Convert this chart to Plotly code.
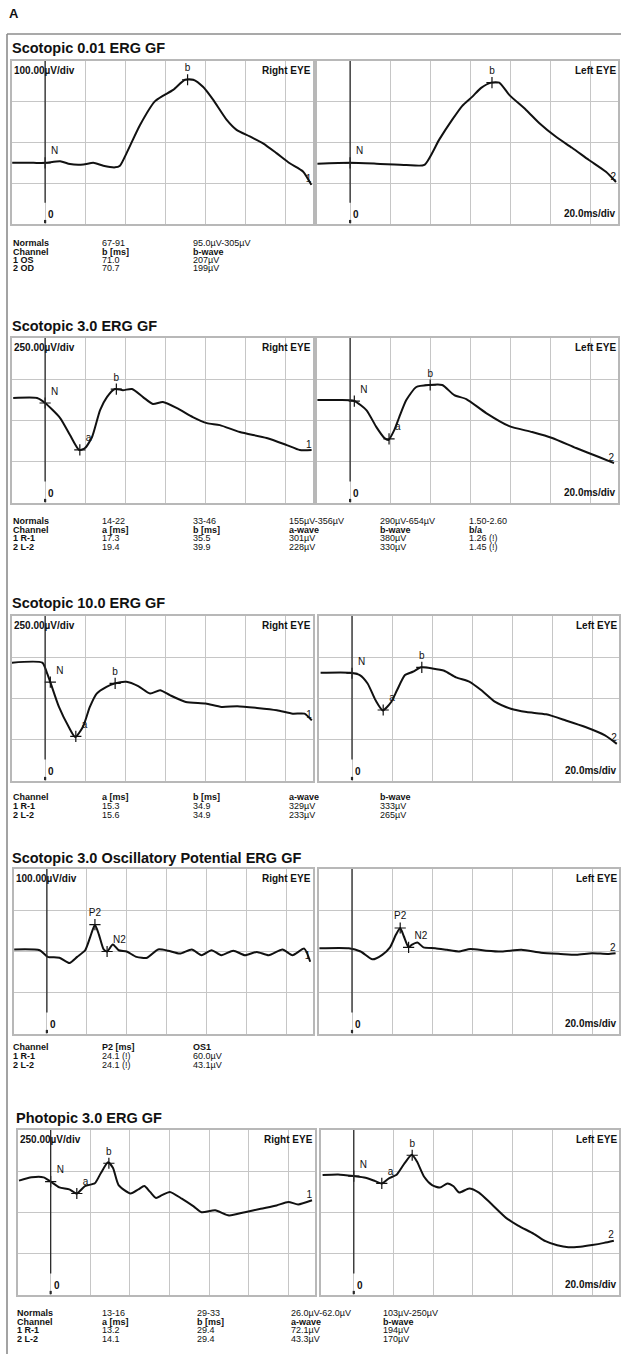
import numpy as np
import plotly.graph_objects as go

W, H = 621, 1354
FONT = "Arial, Liberation Sans, Helvetica, sans-serif"
GRID = "#c6c6c6"
BORDER = "#b8b8b8"
INK = "#111111"

# ---------------- data (time in ms, amplitude in µV) ----------------
# Scotopic 0.01 ERG GF (100 µV/div)
s1_right_ms = [-16.4, -5.8, 0, 7.5, 12.4, 19.1, 24.0, 29.0, 34.8, 37.3, 40.6, 47.3, 54.7, 58.9, 63.8,
               69.7, 73.8, 78.8, 83.7, 90.4, 95.4, 102.0, 108.6, 115.3, 121.9, 128.5, 132.7]
s1_right_uv = [0, 0, 0, 4, -3, -4, 0, -7, -11, -7, 24, 93, 151, 165, 179,
               204, 204, 186, 155, 106, 81, 65, 48, 24, -1, -21, -54]
s1_left_ms = [-16.3, 0, 13.1, 28.0, 37.0, 44.4, 50.9, 55.9, 60.8, 65.3, 70.3, 74.3, 79.3, 87.7,
              94.2, 102.6, 110.6, 119.0, 127.5, 132.5]
s1_left_uv = [-2, 0, -2, -5, -5, 57, 106, 140, 162, 184, 197, 197, 167, 130,
              98, 64, 37, 7, -22, -47]
s1_mark_names = ["N", "b"]
s1_right_mark_ms = [0.0, 71.0]
s1_left_mark_ms = [0.0, 70.7]

# Scotopic 3.0 ERG GF (250 µV/div)
s2_right_ms = [-15.9, -4.0, 0.0, 7.5, 12.4, 17.0, 19.9, 23.4, 27.4, 30.8, 34.8, 38.8, 43.3, 48.8,
               53.7, 58.7, 65.7, 73.6, 80.6, 87.1, 97.0, 110.4, 120.4, 126.9, 132.8]
s2_right_uv = [0, 0, -30, -121, -224, -315, -303, -236, -73, 6, 55, 48, 55, 6,
               -36, -24, -61, -115, -152, -164, -206, -242, -285, -315, -315]
s2_left_ms = [-16.3, -5.3, 2.1, 8.1, 13.1, 17.1, 19.1, 22.0, 24.5, 28.0, 33.0, 39.5, 45.9, 51.9,
              57.9, 67.8, 79.3, 90.7, 100.7, 112.6, 124.0, 131.5]
s2_left_uv = [0, 0, -6, -61, -164, -230, -242, -182, -103, 0, 79, 91, 91, 30,
              6, -79, -158, -194, -230, -291, -345, -382]
s2_mark_names = ["N", "a", "b"]
s2_right_mark_ms = [0.0, 17.3, 35.5]
s2_left_mark_ms = [2.1, 19.4, 39.9]

# Scotopic 10.0 ERG GF (250 µV/div)
s3_right_ms = [-16.8, -1.4, 1.0, 2.6, 6.9, 11.8, 15.0, 18.8, 22.3, 25.7, 30.6, 34.6, 40.5, 46.4,
               52.3, 57.3, 62.2, 70.1, 80.0, 87.9, 95.8, 105.6, 115.5, 123.4, 129.3, 132.9]
s3_right_uv = [0, 0, -65, -118, -268, -390, -451, -390, -268, -187, -146, -126, -116, -142,
               -187, -167, -197, -238, -248, -268, -264, -274, -288, -309, -309, -350]
s3_left_ms = [-15.7, -1.0, 3.9, 7.8, 11.8, 15.4, 19.6, 22.5, 26.5, 30.4, 34.6, 40.2, 46.1, 52.0,
              58.8, 64.7, 71.6, 79.4, 87.3, 97.1, 106.9, 116.7, 126.5, 132.4]
s3_left_uv = [0, 0, -14, -65, -167, -228, -177, -106, -14, 6, 33, 26, 12, -28,
              -55, -106, -177, -218, -238, -252, -289, -329, -380, -431]
s3_mark_names = ["N", "a", "b"]
s3_right_mark_ms = [2.6, 15.3, 34.9]
s3_left_mark_ms = [0.0, 15.6, 34.9]

# Scotopic 3.0 Oscillatory Potential ERG GF (100 µV/div)
s4_right_ms = [-16.4, -3.6, 0.4, 6.3, 11.3, 15.2, 19.2, 21.8, 24.1, 26.1, 28.5, 30.2, 33.1, 36.0,
               40.0, 44.9, 50.3, 55.8, 60.8, 66.7, 72.7, 77.6, 82.6, 87.5, 93.5, 99.4, 105.3,
               111.3, 118.2, 123.2, 129.1, 132.1]
s4_right_uv = [0, -2, -18, -20, -33, -18, -2, 31, 60, 36, 0, -5, 12, -2,
               -5, -18, -20, 0, -3, -10, 0, -14, -2, -14, -3, -14, -6,
               -14, 0, -14, 2, -30]
s4_left_ms = [-16.3, -1.6, 4.3, 10.2, 15.1, 19.0, 22.0, 24.1, 25.9, 28.3, 29.8, 32.7, 35.7, 41.6,
              47.5, 53.3, 59.2, 67.1, 74.9, 84.7, 94.5, 104.3, 112.2, 120.0, 127.8, 131.8]
s4_left_uv = [0, 0, -8, -27, -16, 2, 33, 49, 29, 2, 8, 14, 2, 0,
              -4, -8, -2, -6, -8, -4, -11, -14, -16, -12, -14, -12]
s4_mark_names = ["P2", "N2"]
s4_right_mark_ms = [24.1, 30.2]
s4_left_mark_ms = [24.1, 28.3]

# Photopic 3.0 ERG GF (250 µV/div)
s5_right_ms = [-16.0, -9.6, -3.6, 0.0, 4.4, 9.4, 13.2, 17.3, 22.3, 25.3, 29.0, 31.5, 34.3, 40.3,
               44.3, 47.3, 50.2, 53.2, 56.2, 60.2, 66.2, 72.2, 76.2, 83.1, 90.1, 98.1, 106.1,
               114.1, 120.0, 125.0, 132.0]
s5_right_uv = [-4, 16, 16, -10, -45, -57, -82, -37, -20, 41, 107, 72, -31, -82,
               -57, -37, -72, -109, -92, -72, -113, -160, -195, -184, -215, -195, -174,
               -154, -133, -148, -123]
s5_left_ms = [-15.7, -7.9, 0.0, 5.9, 10.8, 14.1, 17.7, 21.7, 25.6, 29.2, 31.8, 35.4, 39.4, 43.3,
              47.2, 50.2, 53.1, 58.1, 63.0, 68.9, 76.8, 82.7, 90.6, 96.5, 102.4, 108.0, 114.0,
              120.0, 126.0, 130.9]
s5_left_uv = [6, 10, 0, -10, -31, -45, -14, 10, 78, 129, 88, -4, -55, -70,
              -45, -62, -100, -75, -100, -165, -255, -300, -350, -395, -420, -432, -428,
              -418, -405, -392]
s5_mark_names = ["N", "a", "b"]
s5_right_mark_ms = [0.0, 13.2, 29.4]
s5_left_mark_ms = [0.0, 14.1, 29.4]

# ---------------- tables ----------------
s1_table = [["Normals", "67-91", "95.0µV-305µV"],
            ["Channel", "b [ms]", "b-wave"],
            ["1 OS", "71.0", "207µV"],
            ["2 OD", "70.7", "199µV"]]
s2_table = [["Normals", "14-22", "33-46", "155µV-356µV", "290µV-654µV", "1.50-2.60"],
            ["Channel", "a [ms]", "b [ms]", "a-wave", "b-wave", "b/a"],
            ["1 R-1", "17.3", "35.5", "301µV", "380µV", "1.26 (!)"],
            ["2 L-2", "19.4", "39.9", "228µV", "330µV", "1.45 (!)"]]
s3_table = [["Channel", "a [ms]", "b [ms]", "a-wave", "b-wave"],
            ["1 R-1", "15.3", "34.9", "329µV", "333µV"],
            ["2 L-2", "15.6", "34.9", "233µV", "265µV"]]
s4_table = [["Channel", "P2 [ms]", "OS1"],
            ["1 R-1", "24.1 (!)", "60.0µV"],
            ["2 L-2", "24.1 (!)", "43.1µV"]]
s5_table = [["Normals", "13-16", "29-33", "26.0µV-62.0µV", "103µV-250µV"],
            ["Channel", "a [ms]", "b [ms]", "a-wave", "b-wave"],
            ["1 R-1", "13.2", "29.4", "72.1µV", "194µV"],
            ["2 L-2", "14.1", "29.4", "43.3µV", "170µV"]]

titles = ["Scotopic 0.01 ERG GF", "Scotopic 3.0 ERG GF", "Scotopic 10.0 ERG GF",
          "Scotopic 3.0 Oscillatory Potential ERG GF", "Photopic 3.0 ERG GF"]
units = ["100.00µV/div", "250.00µV/div", "250.00µV/div", "100.00µV/div", "250.00µV/div"]

# ---------------- layout geometry (pixels) ----------------
sections = [
    dict(title=titles[0], unit=units[0], title_y=48, top=61, bottom=224, tx=10,
         right=(12, 313), left=(317, 618), yr_right=(-150, 250), yr_left=(-150, 250),
         traces=(s1_right_ms, s1_right_uv, s1_left_ms, s1_left_uv),
         marks=(s1_mark_names, s1_right_mark_ms, s1_left_mark_ms),
         table=s1_table, rows_y=[243, 251.5, 260, 268.5], cols_x=[11, 100, 191]),
    dict(title=titles[1], unit=units[1], title_y=326, top=338, bottom=503, tx=10,
         right=(12, 313), left=(317, 618), yr_right=(-636, 364), yr_left=(-624, 376),
         traces=(s2_right_ms, s2_right_uv, s2_left_ms, s2_left_uv),
         marks=(s2_mark_names, s2_right_mark_ms, s2_left_mark_ms),
         table=s2_table, rows_y=[521, 529.5, 538, 546.5], cols_x=[11, 100, 191, 287, 378, 467]),
    dict(title=titles[2], unit=units[2], title_y=603, top=616, bottom=781, tx=10,
         right=(12, 313), left=(319, 619), yr_right=(-717, 283), yr_left=(-656, 344),
         traces=(s3_right_ms, s3_right_uv, s3_left_ms, s3_left_uv),
         marks=(s3_mark_names, s3_right_mark_ms, s3_left_mark_ms),
         table=s3_table, rows_y=[797, 806, 814.5], cols_x=[11, 100, 191, 287, 378]),
    dict(title=titles[3], unit=units[3], title_y=858, top=869, bottom=1034, tx=10,
         right=(14, 313), left=(319, 619), yr_right=(-205, 195), yr_left=(-208, 192),
         traces=(s4_right_ms, s4_right_uv, s4_left_ms, s4_left_uv),
         marks=(s4_mark_names, s4_right_mark_ms, s4_left_mark_ms),
         table=s4_table, rows_y=[1047, 1056, 1064.5], cols_x=[11, 100, 191]),
    dict(title=titles[4], unit=units[4], title_y=1118, top=1130, bottom=1295, tx=14,
         right=(18, 315), left=(321, 619), yr_right=(-697, 303), yr_left=(-721, 279),
         traces=(s5_right_ms, s5_right_uv, s5_left_ms, s5_left_uv),
         marks=(s5_mark_names, s5_right_mark_ms, s5_left_mark_ms),
         table=s5_table, rows_y=[1313, 1321.5, 1330, 1338.5], cols_x=[15, 100, 195, 289, 381]),
]

LABEL_POS = {"N": "top right", "a": "top right", "b": "top center", "P2": "top center", "N2": "top right"}


def px(x):
    return x / W


def py(y):
    return 1 - y / H


fig = go.Figure()
layout = {}
ann = []
shapes = []


def txt(x, y, text, size=9, bold=False, xanchor="left", yanchor="middle", **kw):
    d = dict(x=x, y=y, text=f"<b>{text}</b>" if bold else text, showarrow=False,
             xanchor=xanchor, yanchor=yanchor, font=dict(family=FONT, size=size, color=INK))
    d.update(kw)
    if "xref" not in d:
        d["xref"] = "paper"
    if "yref" not in d:
        d["yref"] = "paper"
    ann.append(d)


n = 0
for sec in sections:
    txt(px(sec["tx"]), py(sec["title_y"]), sec["title"], size=14.5, bold=True)
    names, r_marks, l_marks = sec["marks"]
    r_ms, r_uv, l_ms, l_uv = sec["traces"]
    for side, ms, uv, mk, ch in (("right", r_ms, r_uv, r_marks, "1"), ("left", l_ms, l_uv, l_marks, "2")):
        n += 1
        sfx = "" if n == 1 else str(n)
        xa, ya = "x" + sfx, "y" + sfx
        x0, x1 = sec[side]
        yr = sec["yr_" + side]
        layout["xaxis" + sfx] = dict(
            domain=[px(x0), px(x1)], range=[-16.5, 133.5], anchor=ya, tick0=0, dtick=20,
            showgrid=True, gridcolor=GRID, gridwidth=1, zeroline=False,
            showticklabels=False, ticks="", showline=True, mirror=True,
            linecolor=BORDER, linewidth=1.5, fixedrange=True)
        layout["yaxis" + sfx] = dict(
            domain=[py(sec["bottom"]), py(sec["top"])], range=list(yr), anchor=xa,
            tick0=yr[0], dtick=(yr[1] - yr[0]) / 4, showgrid=True, gridcolor=GRID, gridwidth=1,
            zeroline=False, showticklabels=False, ticks="", showline=True, mirror=True,
            linecolor=BORDER, linewidth=1.5, fixedrange=True)
        # stimulus (time zero) line, stopping above the "0" label, with a dot at its foot
        shapes.append(dict(type="line", xref=xa, yref=ya + " domain", x0=0, x1=0, y0=0.13, y1=1,
                           line=dict(color="#2a2a2a", width=1.3), layer="above"))
        shapes.append(dict(type="line", xref=xa, yref=ya + " domain", x0=0, x1=0, y0=0.005, y1=0.025,
                           line=dict(color="#2a2a2a", width=2.2), layer="above"))
        fig.add_trace(go.Scatter(
            x=ms, y=uv, xaxis=xa, yaxis=ya, mode="lines", hoverinfo="skip", showlegend=False,
            line=dict(color=INK, width=2.0, shape="spline", smoothing=0.6)))
        my = np.interp(mk, ms, uv)
        fig.add_trace(go.Scatter(
            x=mk, y=my, xaxis=xa, yaxis=ya, mode="markers+text", text=names,
            textposition=[LABEL_POS[t] for t in names], hoverinfo="skip", showlegend=False,
            marker=dict(symbol="cross-thin", size=8, line=dict(width=1.2, color=INK)),
            textfont=dict(family=FONT, size=10, color=INK)))
        fig.add_trace(go.Scatter(
            x=[ms[-1]], y=[uv[-1]], xaxis=xa, yaxis=ya, mode="text", text=[ch],
            textposition="top left", hoverinfo="skip", showlegend=False,
            textfont=dict(family=FONT, size=10, color=INK)))
        txt(0.6, 0.015, "0", size=10, bold=True, xref=xa, yref=ya + " domain", yanchor="bottom")
        if side == "right":
            txt(0.0, 0.985, sec["unit"], size=10, bold=True, xref=xa + " domain",
                yref=ya + " domain", yanchor="top")
            txt(1.0, 0.985, "Right EYE", size=10, bold=True, xref=xa + " domain",
                yref=ya + " domain", xanchor="right", yanchor="top")
        else:
            txt(1.0, 0.985, "Left EYE", size=10, bold=True, xref=xa + " domain",
                yref=ya + " domain", xanchor="right", yanchor="top")
            txt(1.0, 0.02, "20.0ms/div", size=10, bold=True, xref=xa + " domain",
                yref=ya + " domain", xanchor="right", yanchor="bottom")
    # data table under the section
    for r, row in enumerate(sec["table"]):
        header = row[0] == "Channel"
        for c, cell in enumerate(row):
            txt(px(sec["cols_x"][c]), py(sec["rows_y"][r]), cell, size=9, bold=(c == 0 or header))

txt(px(7), py(14), "A", size=13, bold=True)

shapes += [
    dict(type="line", xref="paper", yref="paper", x0=px(7), x1=px(621), y0=py(34), y1=py(34),
         line=dict(color="#8c8c8c", width=1.6)),
    dict(type="line", xref="paper", yref="paper", x0=px(7), x1=px(7), y0=py(34), y1=py(1354),
         line=dict(color="#8c8c8c", width=1.6)),
]

fig.update_layout(width=W, height=H, margin=dict(l=0, r=0, t=0, b=0), paper_bgcolor="white",
                  plot_bgcolor="white", annotations=ann, shapes=shapes, showlegend=False,
                  **layout)
fig.write_html("out.html", config={"displayModeBar": False},
               post_script="document.body.style.margin='0';document.body.style.overflow='hidden';")
